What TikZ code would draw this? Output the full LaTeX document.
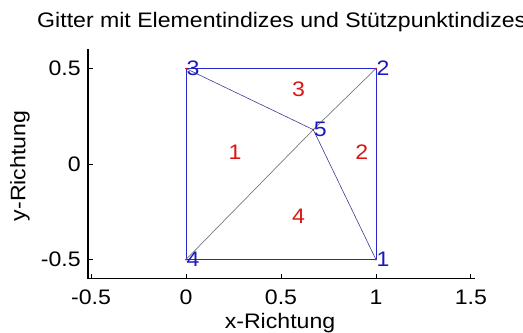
\documentclass[tikz,border=0pt]{standalone}
\usepackage{fontspec}
\setmainfont{Liberation Sans}[FakeStretch=1.1]
\usetikzlibrary{positioning}

\begin{document}
\begin{tikzpicture}[x=190pt,y=191pt,
  font=\fontsize{21}{24}\selectfont,
  edge/.style={draw={rgb,255:red,40;green,40;blue,200}, line width=0.6pt},
  inner/.style={draw={rgb,255:red,60;green,60;blue,150}, line width=0.6pt},
  diag/.style={draw={rgb,255:red,120;green,120;blue,130}, line width=0.7pt},
  vert/.style={circle, fill=red, inner sep=0pt, minimum size=2pt},
  vnum/.style={anchor=west, text={rgb,255:red,25;green,25;blue,190}, inner sep=0.5pt},
  elnum/.style={anchor=west, text={rgb,255:red,220;green,20;blue,20}, inner sep=0pt},
  axisline/.style={line width=1.4pt},
  tickline/.style={line width=0.9pt}]
\useasboundingbox (-0.979,-0.880) rectangle (1.774,0.859);
\coordinate (top) at (-0.516,0.6);
\coordinate (orig) at (-0.516,-0.6);
\coordinate (right) at (1.52,-0.6);
\draw[axisline] (top) -- (orig) -- (right);
\foreach \x [count=\k] in {-0.5,0,0.5,1,1.5} {
  \coordinate (xt\k) at (\x,-0.6);
  \draw[tickline] (xt\k) -- ++(0,5pt);
  \node[anchor=north, inner sep=0pt, yshift=-11pt] (xl\k) at (xt\k) {\x};
}
\foreach \y [count=\k] in {-0.5,0,0.5} {
  \coordinate (yt\k) at (-0.516,\y);
  \draw[tickline] (yt\k) -- ++(5pt,0);
  \node[anchor=east, inner sep=0pt, xshift=-7pt] (yl\k) at (yt\k) {\y};
}
\node[anchor=west, inner sep=0pt] (title) at (-0.784,0.743) {Gitter mit Elementindizes und Stützpunktindizes};
\node (xlab) at (0.495,-0.832) {x-Richtung};
\node[rotate=90] (ylab) at (-0.874,-0.01) {y-Richtung};
\coordinate (p1) at (1,-0.5);
\coordinate (p2) at (1,0.5);
\coordinate (p3) at (0,0.5);
\coordinate (p4) at (0,-0.5);
\coordinate (p5) at (0.67,0.18);
\draw[edge] (p4) -- (p1) -- (p2) -- (p3) -- cycle;
\draw[inner] (p3) -- (p5);
\draw[inner] (p5) -- (p1);
\draw[diag] (p4) -- (p5) -- (p2);
\foreach \i in {1,...,5} {
  \node[vert] (m\i) at (p\i) {};
  \node[vnum] (n\i) at (p\i) {\i};
}
\node[elnum] (e1) at (0.223,0.06) {1};
\node[elnum] (e2) at (0.89,0.06) {2};
\node[elnum] (e3) at (0.557,0.393) {3};
\node[elnum] (e4) at (0.557,-0.273) {4};
\end{tikzpicture}
\end{document}
